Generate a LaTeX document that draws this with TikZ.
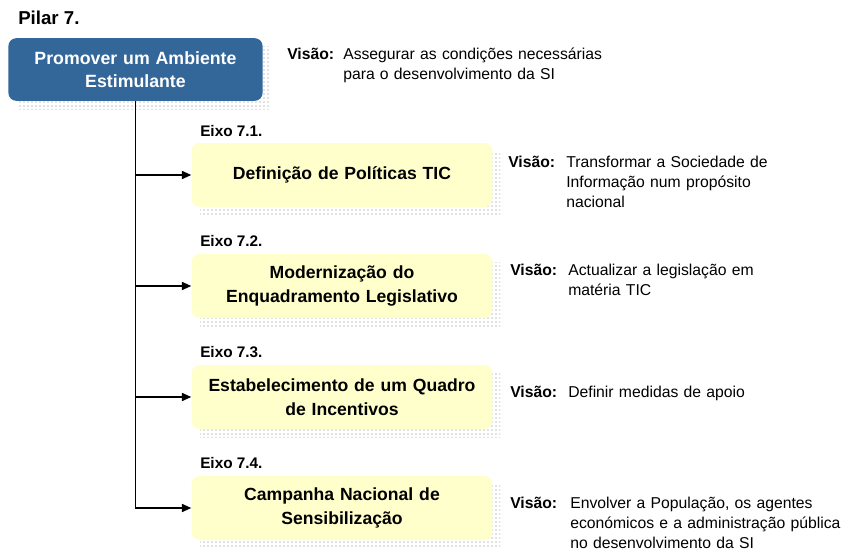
\documentclass[tikz,border=0pt]{standalone}
\usepackage{fontspec}
\setmainfont{Liberation Sans}
\usetikzlibrary{arrows.meta,patterns,calc}

\definecolor{pilarblue}{RGB}{51,102,153}
\definecolor{eixoyellow}{RGB}{255,255,204}

\tikzset{
    pilarbox/.style={draw=none, fill=pilarblue, rounded corners=6pt, text=white, font=\fontsize{13.3}{17}\selectfont\bfseries,
        align=center, minimum width=190pt, minimum height=47pt, text width=184pt},
    eixobox/.style={draw=none, fill=eixoyellow, rounded corners=6pt, font=\fontsize{13.2}{18}\selectfont\bfseries,
        align=center, minimum width=225pt, minimum height=48pt, text width=219pt},
    shade/.style={pattern=dots, pattern color=gray, draw=none},
    visao/.style={anchor=north west, inner sep=0pt, font=\fontsize{11.8}{15}\selectfont\bfseries},
    visaotxt/.style={anchor=north west, inner sep=0pt, align=left, text width=215pt, font=\fontsize{11.8}{15}\selectfont},
    eixolbl/.style={anchor=west, inner sep=0pt, font=\fontsize{11.5}{13}\selectfont\bfseries},
    link/.style={line width=1.2pt, -{Triangle[length=7pt,width=6pt]}}
}

\begin{document}
\begin{tikzpicture}[x=0.75pt, y=-0.75pt]
    \useasboundingbox (0,0) rectangle (847,550);
    \node[anchor=west, inner sep=0pt, font=\fontsize{14}{15}\selectfont\bfseries] (titulo) at (18,18) {Pilar 7.};
    % sombras pontilhadas
    \fill[shade] (17,46) rectangle (270,109);
    \foreach \y in {175,286,397,508} {\fill[shade] (200,\y-24) rectangle (500,\y+40);}
    \node[pilarbox] (pilar) at (135.5,69.5) {Promover um Ambiente\\Estimulante};
    \node[eixobox] (e1) at (342,175) {Definição de Políticas TIC};
    \node[eixobox] (e2) at (342,286) {Modernização do\\Enquadramento Legislativo};
    \node[eixobox] (e3) at (342,397) {Estabelecimento de um Quadro\\de Incentivos};
    \node[eixobox] (e4) at (342,508) {Campanha Nacional de\\Sensibilização};
    \node[eixolbl] (l1) at (200,131) {Eixo 7.1.};
    \node[eixolbl] (l2) at (200,241) {Eixo 7.2.};
    \node[eixolbl] (l3) at (200,352) {Eixo 7.3.};
    \node[eixolbl] (l4) at (200,463) {Eixo 7.4.};
    \draw[link] (pilar.south) |- (e4.west);
    \foreach \e in {e1,e2,e3} {\draw[link] (pilar.south |- \e.west) -- (\e.west);}
    \node[visao] (v0) at (287,48) {Visão:};
    \node[visaotxt] (t0) at (343,48) {Assegurar as condições necessárias\\para o desenvolvimento da SI};
    \node[visao] (v1) at (508,156) {Visão:};
    \node[visaotxt] (t1) at (566,156) {Transformar a Sociedade de\\Informação num propósito\\nacional};
    \node[visao] (v2) at (510,264) {Visão:};
    \node[visaotxt] (t2) at (568,264) {Actualizar a legislação em\\matéria TIC};
    \node[visao] (v3) at (510,386) {Visão:};
    \node[visaotxt] (t3) at (568,386) {Definir medidas de apoio};
    \node[visao] (v4) at (510,497) {Visão:};
    \node[visaotxt] (t4) at (570,497) {Envolver a População, os agentes\\económicos e a administração pública\\no desenvolvimento da SI};
\end{tikzpicture}
\end{document}
